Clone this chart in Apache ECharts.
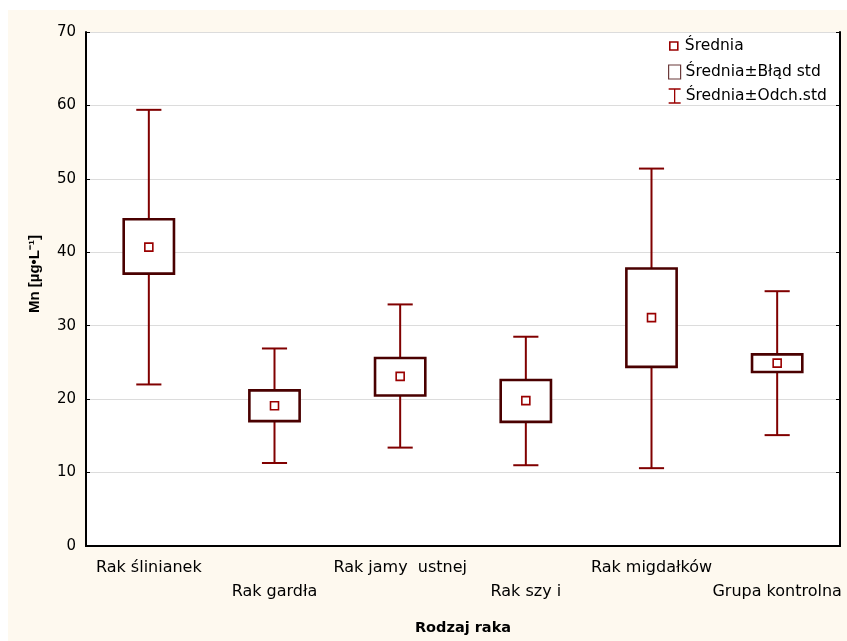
<!DOCTYPE html>
<html>
<head>
<meta charset="utf-8">
<script src="https://cdn.jsdelivr.net/npm/echarts@6/dist/echarts.min.js"></script>
<style>
  html, body { margin: 0; padding: 0; background: #ffffff; }
  #chart { width: 847px; height: 641px; }
</style>
</head>
<body>
<div id="chart"></div>
<script>
// ---- Data ----
const categories = ['Rak ślinianek', 'Rak gardła', 'Rak jamy  ustnej', 'Rak szy i', 'Rak migdałków', 'Grupa kontrolna'];
const meanValues = [40.7, 19.1, 23.1, 19.8, 31.1, 24.9];
const seLow      = [37.1, 17.0, 20.5, 16.9, 24.4, 23.7];
const seHigh     = [44.5, 21.2, 25.6, 22.6, 37.8, 26.1];
const sdLow      = [22.0, 11.3, 13.4, 11.0, 10.6, 15.1];
const sdHigh     = [59.4, 26.9, 32.9, 28.5, 51.4, 34.7];
const yTicks = { min: 0, max: 70, interval: 10 };

const seriesNames = ['Średnia', 'Średnia±Błąd std', 'Średnia±Odch.std'];

// ---- Build series data ----
const whiskerData = categories.map((c, i) => [i, sdLow[i], sdHigh[i]]);
const boxData = categories.map((c, i) => [i, seLow[i], seHigh[i]]);
const meanData = categories.map((c, i) => [i, meanValues[i]]);

const FONT = 'DejaVu Sans';

function renderWhisker(params, api) {
  const x = api.value(0);
  const lo = api.coord([x, api.value(1)]);
  const hi = api.coord([x, api.value(2)]);
  const band = api.size([1, 0])[0];
  const half = band * 0.1;
  const style = { stroke: '#800000', lineWidth: 2, fill: null };
  return {
    type: 'group',
    children: [
      { type: 'line', shape: { x1: lo[0], y1: lo[1], x2: hi[0], y2: hi[1] }, style: style },
      { type: 'line', shape: { x1: lo[0] - half, y1: lo[1], x2: lo[0] + half, y2: lo[1] }, style: style },
      { type: 'line', shape: { x1: hi[0] - half, y1: hi[1], x2: hi[0] + half, y2: hi[1] }, style: style }
    ]
  };
}

function renderBox(params, api) {
  const x = api.value(0);
  const lo = api.coord([x, api.value(1)]);
  const hi = api.coord([x, api.value(2)]);
  const band = api.size([1, 0])[0];
  const w = band * 0.4;
  return {
    type: 'rect',
    shape: { x: lo[0] - w / 2, y: hi[1], width: w, height: lo[1] - hi[1] },
    style: { fill: '#ffffff', stroke: '#4a0000', lineWidth: 2.6 }
  };
}

const chart = echarts.init(document.getElementById('chart'), null, { renderer: 'canvas' });

const option = {
  backgroundColor: '#fef9ef',
  animation: false,
  graphic: [
    { type: 'rect', left: 0, top: 0, shape: { width: 847, height: 10 }, style: { fill: '#ffffff' }, z: -10 },
    { type: 'rect', left: 0, top: 0, shape: { width: 8, height: 641 }, style: { fill: '#ffffff' }, z: -10 }
  ],
  grid: {
    left: 86, top: 32, right: 7, bottom: 95,
    show: true, backgroundColor: '#ffffff', borderWidth: 0,
    outerBoundsMode: 'none'
  },
  legend: [
    {
      data: [{ name: seriesNames[0], icon: 'rect', itemStyle: { color: '#ffffff', borderColor: '#990000', borderWidth: 1.6 } }],
      orient: 'vertical', left: 669, top: 38, padding: 0, itemWidth: 8, itemHeight: 8,
      selectedMode: false,
      textStyle: { fontFamily: FONT, fontSize: 15.5, color: '#000', padding: [0, 0, 0, 2] }
    },
    {
      data: [{ name: seriesNames[1], icon: 'rect', itemStyle: { color: '#ffffff', borderColor: '#6b3a3a', borderWidth: 1.2 } }],
      orient: 'vertical', left: 668, top: 64, padding: 0, itemWidth: 12, itemHeight: 14,
      selectedMode: false,
      textStyle: { fontFamily: FONT, fontSize: 15.5, color: '#000' }
    },
    {
      data: [{ name: seriesNames[2], icon: 'path://M0,0L12,0M6,0L6,14M0,14L12,14', itemStyle: { color: 'transparent', borderColor: '#990000', borderWidth: 1.3 } }],
      orient: 'vertical', left: 668, top: 88, padding: 0, itemWidth: 12, itemHeight: 14,
      selectedMode: false,
      textStyle: { fontFamily: FONT, fontSize: 15.5, color: '#000' }
    }
  ],
  xAxis: [
    {
      type: 'category', data: categories, position: 'bottom', boundaryGap: true,
      axisLine: { lineStyle: { color: '#000', width: 2 } },
      axisTick: { inside: true, length: 4, alignWithLabel: true, lineStyle: { color: '#000', width: 1 } },
      axisLabel: {
        interval: 0, margin: 10, color: '#000', fontFamily: FONT, fontSize: 16, lineHeight: 24,
        formatter: function (v, i) { return i % 2 ? '\n' + v : v; }
      },
      name: 'Rodzaj raka', nameLocation: 'middle', nameGap: 75,
      nameTextStyle: { fontFamily: FONT, fontWeight: 'bold', fontSize: 14.5, color: '#000' },
      splitLine: { show: false }
    },
    {
      type: 'category', data: categories, position: 'top', boundaryGap: true,
      axisLine: { lineStyle: { color: '#000', width: 2 } },
      axisTick: { inside: true, length: 4, alignWithLabel: true, lineStyle: { color: '#000', width: 1 } },
      axisLabel: { show: false },
      splitLine: { show: false }
    }
  ],
  yAxis: [
    {
      type: 'value', position: 'left', min: yTicks.min, max: yTicks.max, interval: yTicks.interval,
      axisLine: { show: true, lineStyle: { color: '#000', width: 2 } },
      axisTick: { show: true, inside: true, length: 4, lineStyle: { color: '#000', width: 1 } },
      axisLabel: { margin: 10, color: '#000', fontFamily: FONT, fontSize: 15 },
      splitLine: { show: true, lineStyle: { color: '#dcdcdc', width: 1 } },
      name: 'Mn [µg•L⁻¹]', nameLocation: 'middle', nameGap: 44,
      nameTextStyle: { fontFamily: 'Liberation Sans', fontWeight: 'bold', fontSize: 15, color: '#000', padding: [0, 0, 0, 30] }
    },
    {
      type: 'value', position: 'right', min: yTicks.min, max: yTicks.max, interval: yTicks.interval,
      axisLine: { show: true, lineStyle: { color: '#000', width: 2 } },
      axisTick: { show: true, inside: true, length: 4, lineStyle: { color: '#000', width: 1 } },
      axisLabel: { show: false },
      splitLine: { show: false }
    }
  ],
  series: [
    {
      name: seriesNames[2], type: 'custom', xAxisIndex: 0, yAxisIndex: 0,
      renderItem: renderWhisker, data: whiskerData, encode: { x: 0, y: [1, 2] }, z: 2,
      itemStyle: { color: '#990000' }
    },
    {
      name: seriesNames[1], type: 'custom', xAxisIndex: 0, yAxisIndex: 0,
      renderItem: renderBox, data: boxData, encode: { x: 0, y: [1, 2] }, z: 3,
      itemStyle: { color: '#6b3a3a' }
    },
    {
      name: seriesNames[0], type: 'scatter', xAxisIndex: 0, yAxisIndex: 0,
      data: meanData, symbol: 'rect', symbolSize: 8, z: 4,
      itemStyle: { color: '#ffffff', borderColor: '#990000', borderWidth: 1.6, opacity: 1 }
    }
  ]
};

chart.setOption(option);
</script>
</body>
</html>
